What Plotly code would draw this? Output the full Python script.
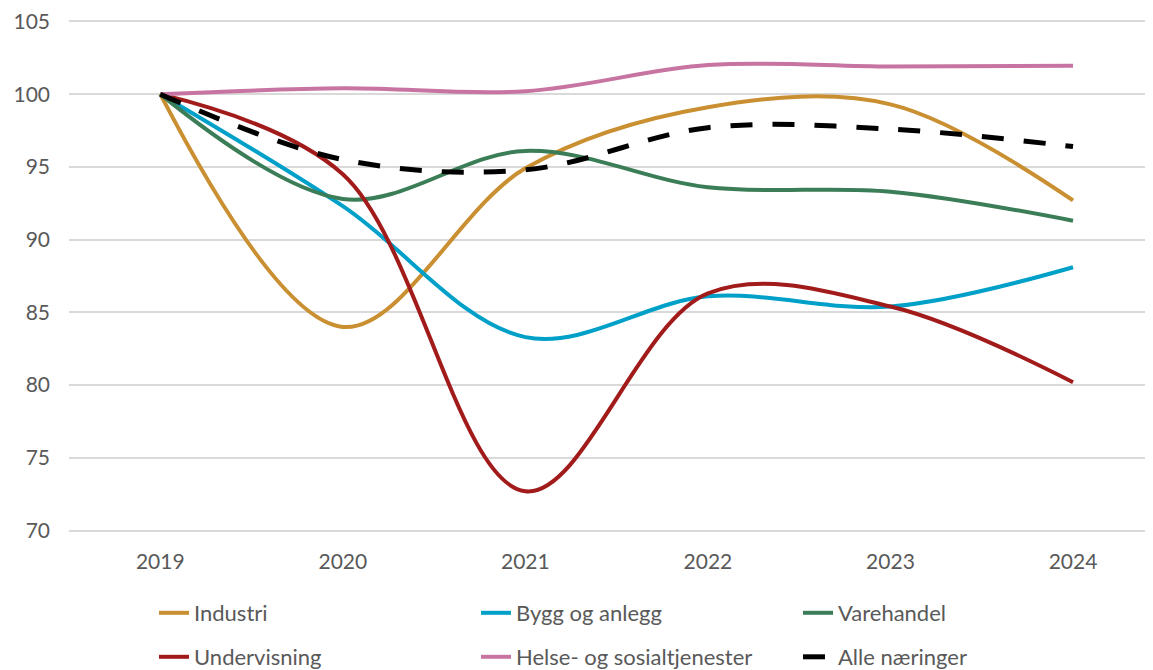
import plotly.graph_objects as go

years = ["2019", "2020", "2021", "2022", "2023", "2024"]

industri = [100, 84.0, 94.9, 99.1, 99.3, 92.7]
bygg = [100, 92.3, 83.3, 86.1, 85.4, 88.1]
varehandel = [100, 92.8, 96.1, 93.6, 93.3, 91.3]
undervisning = [100, 94.5, 72.7, 86.3, 85.4, 80.2]
helse = [100, 100.4, 100.2, 102.0, 101.9, 101.95]
alle = [100, 95.5, 94.8, 97.7, 97.6, 96.4]

y_ticks = [70, 75, 80, 85, 90, 95, 100, 105]

series = [
    ("Industri", industri, "#C98F31", "solid", "legend"),
    ("Bygg og anlegg", bygg, "#00A0C9", "solid", "legend"),
    ("Varehandel", varehandel, "#3A7D57", "solid", "legend"),
    ("Undervisning", undervisning, "#A21B1B", "solid", "legend2"),
    ("Helse- og sosialtjenester", helse, "#C874A2", "solid", "legend2"),
    ("Alle næringer", alle, "#000000", "22px,20px", "legend2"),
]

fig = go.Figure()
for name, vals, color, dash, leg in series:
    fig.add_trace(go.Scatter(
        x=years, y=vals, name=name, mode="lines",
        line=dict(color=color, width=5 if name == "Alle næringer" else 4,
                  dash=dash, shape="spline", smoothing=1.0),
        legend=leg,
    ))

FONT = "Lato"
OFF = 8  # page body margin
W, H = 1153 - OFF, 670 - OFF
Y_LO, Y_HI = 69.9, 105.1
PX_PER_UNIT = (531 - 21) / 35.0  # 70 at y=531, 105 at y=21 (page px)
PL = 68.7
PT = 21 - (Y_HI - 105) * PX_PER_UNIT
PB = 531 + (70 - Y_LO) * PX_PER_UNIT
L, T, B = PL - OFF, PT - OFF, 670 - PB


def cx(px):
    return (px - OFF) / W


def cy(py):
    return (H - (py - OFF)) / H


legend_common = dict(
    orientation="h", xanchor="left", yanchor="middle",
    xref="container", yref="container",
    entrywidth=277, entrywidthmode="pixels",
    font=dict(family=FONT, size=22, color="#595959"),
    bgcolor="rgba(0,0,0,0)", borderwidth=0,
    itemwidth=30, traceorder="normal",
)

fig.update_layout(
    width=W, height=H,
    margin=dict(l=L, r=0, t=T, b=B, pad=0, autoexpand=False),
    paper_bgcolor="white", plot_bgcolor="white",
    font=dict(family=FONT, size=21, color="#595959"),
    showlegend=True,
    legend=dict(x=cx(154), y=cy(613), **legend_common),
    legend2=dict(x=cx(154), y=cy(657), **legend_common),
    xaxis=dict(
        type="category", range=[-0.5, (1153 - 160) / 182.6],
        showgrid=False, showline=False, zeroline=False, ticks="",
        tickfont=dict(family=FONT, size=21, color="#595959"),
        ticklabelstandoff=15,
    ),
    yaxis=dict(
        range=[Y_LO, Y_HI], tickvals=y_ticks,
        showgrid=True, gridcolor="#D9D9D9", gridwidth=1.5,
        showline=False, zeroline=False, ticks="",
        tickfont=dict(family=FONT, size=21, color="#595959"),
        ticklabelstandoff=18, ticklabeloverflow="allow",
    ),
)

fig.write_html("out.html")
